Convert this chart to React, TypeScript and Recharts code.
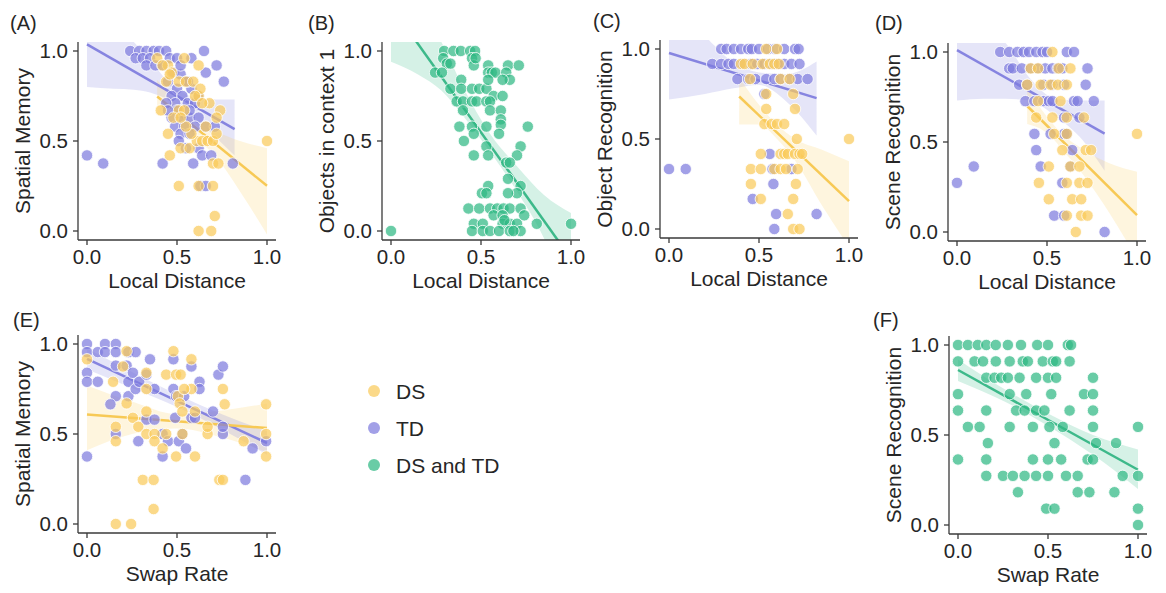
import React from 'react';
import { ComposedChart, Scatter, Line, Area, XAxis, YAxis } from 'recharts';

type Pt = [number, number];
type Band = [number, number, number];

const INK = '#262626';
const AXIS = '#3a3a3a';
const DS_COLOR = '#F9CB5C';
const TD_COLOR = '#7E7CDE';
const BOTH_COLOR = '#2FB884';
const DS_LINE = '#F7C955';
const TD_LINE = '#8684E0';
const BOTH_LINE = '#3DB98A';

const TICKS = [0, 0.5, 1];

// (A) Spatial Memory vs Local Distance
const A_TD: Pt[] = [
  [0, 0.42], [0.09, 0.375], [0.24, 1.0], [0.29, 1.0], [0.33, 1.0], [0.37, 1.0], [0.4, 1.0], [0.44, 1.0],
  [0.27, 0.96], [0.31, 0.96], [0.35, 0.96], [0.33, 0.92], [0.38, 0.92], [0.42, 0.92], [0.46, 0.96],
  [0.5, 0.96], [0.58, 0.96], [0.65, 1.0], [0.72, 0.92], [0.66, 0.88], [0.76, 0.83], [0.48, 0.88],
  [0.45, 0.83], [0.52, 0.87], [0.55, 0.83], [0.58, 0.79], [0.5, 0.79], [0.47, 0.75], [0.53, 0.75],
  [0.56, 0.71], [0.6, 0.71], [0.49, 0.71], [0.44, 0.71], [0.5, 0.67], [0.47, 0.63], [0.53, 0.63],
  [0.57, 0.63], [0.62, 0.63], [0.49, 0.58], [0.54, 0.58], [0.6, 0.58], [0.66, 0.58], [0.71, 0.58],
  [0.52, 0.54], [0.57, 0.54], [0.51, 0.5], [0.62, 0.46], [0.55, 0.46], [0.42, 0.375], [0.59, 0.375],
  [0.64, 0.42], [0.69, 0.42], [0.81, 0.375], [0.63, 0.25], [0.66, 0.25], [0.57, 0.67], [0.62, 0.75],
  [0.45, 0.67], [0.52, 0.92], [0.56, 0.83],
];
const A_DS: Pt[] = [
  [1.0, 0.5], [0.51, 0.25], [0.62, 0.25], [0.7, 0.25], [0.71, 0.083], [0.62, 0.0], [0.69, 0.0],
  [0.46, 0.42], [0.45, 0.54], [0.41, 0.67], [0.39, 0.96], [0.45, 0.92], [0.54, 0.96], [0.62, 0.92],
  [0.44, 0.83], [0.51, 0.83], [0.55, 0.83], [0.59, 0.83], [0.62, 0.75], [0.63, 0.79], [0.6, 0.75],
  [0.68, 0.71], [0.74, 0.67], [0.72, 0.63], [0.51, 0.67], [0.54, 0.67], [0.47, 0.88], [0.46, 0.87],
  [0.52, 0.46], [0.57, 0.46], [0.61, 0.5], [0.64, 0.5], [0.67, 0.5], [0.7, 0.5], [0.72, 0.54],
  [0.66, 0.58], [0.58, 0.54], [0.7, 0.375], [0.73, 0.375], [0.55, 0.58], [0.64, 0.71], [0.48, 0.63],
  [0.52, 0.63], [0.42, 0.92],
];
const A_TD_FIT: Pt[] = [[0, 1.037], [0.82, 0.566]];
const A_DS_FIT: Pt[] = [[0.39, 0.747], [1.0, 0.251]];
const A_TD_BAND: Band[] = [
  [0, 0.8, 1.28], [0.15, 0.79, 1.15], [0.26, 0.785, 1.05], [0.35, 0.77, 0.95], [0.45, 0.73, 0.83],
  [0.55, 0.67, 0.76], [0.65, 0.58, 0.73], [0.82, 0.42, 0.73],
];
const A_DS_BAND: Band[] = [
  [0.39, 0.65, 0.84], [0.5, 0.61, 0.7], [0.6, 0.52, 0.61], [0.7, 0.43, 0.56], [0.85, 0.22, 0.5], [1.0, -0.02, 0.46],
];

// (B) Objects in context 1 vs Local Distance (both groups)
const B_ALL: Pt[] = [
  [0, 0], [0.295, 1], [0.347, 1], [0.388, 1], [0.44, 1], [0.467, 1], [0.29, 0.96], [0.31, 0.93],
  [0.245, 0.88], [0.283, 0.88], [0.33, 0.93], [0.45, 0.96], [0.46, 0.92], [0.54, 0.92], [0.54, 0.88],
  [0.56, 0.88], [0.58, 0.88], [0.65, 0.92], [0.71, 0.92], [0.64, 0.88], [0.66, 0.84], [0.33, 0.79],
  [0.39, 0.84], [0.39, 0.79], [0.45, 0.79], [0.49, 0.79], [0.53, 0.79], [0.54, 0.84], [0.57, 0.75],
  [0.62, 0.75], [0.365, 0.72], [0.4, 0.72], [0.45, 0.72], [0.475, 0.72], [0.53, 0.72], [0.55, 0.72],
  [0.4, 0.67], [0.55, 0.67], [0.61, 0.67], [0.61, 0.62], [0.61, 0.59], [0.38, 0.58], [0.45, 0.58],
  [0.53, 0.58], [0.46, 0.54], [0.6, 0.54], [0.405, 0.5], [0.76, 0.58], [0.53, 0.47], [0.54, 0.42],
  [0.46, 0.42], [0.72, 0.47], [0.7, 0.42], [0.64, 0.38], [0.66, 0.38], [0.65, 0.29], [0.72, 0.25],
  [0.7, 0.21], [0.54, 0.25], [0.505, 0.21], [0.53, 0.21], [0.65, 0.21], [0.43, 0.125], [0.49, 0.125],
  [0.55, 0.125], [0.59, 0.125], [0.625, 0.125], [0.66, 0.125], [0.72, 0.125], [0.57, 0.087],
  [0.62, 0.087], [0.74, 0.087], [0.46, 0.04], [0.51, 0.04], [0.62, 0.04], [0.66, 0.04], [0.7, 0.04],
  [0.45, 0], [0.51, 0], [0.55, 0], [0.6, 0], [0.66, 0], [0.72, 0], [0.81, 0.04], [1.0, 0.04], [0.68, 0],
  [0.63, 0.06], [0.47, 0.96], [0.62, 0.84],
];
const B_FIT: Pt[] = [[0, 1.25], [1, -0.154]];
const B_BAND: Band[] = [
  [0, 0.94, 1.56], [0.15, 0.87, 1.25], [0.28, 0.78, 1.05], [0.4, 0.64, 0.8], [0.55, 0.44, 0.54],
  [0.7, 0.22, 0.36], [0.85, -0.04, 0.2], [1.0, -0.4, 0.1],
];

// (C) Object Recognition vs Local Distance
const C_TD: Pt[] = [
  [0.29, 1], [0.32, 1], [0.36, 1], [0.4, 1], [0.44, 1], [0.46, 1], [0.5, 1], [0.55, 1], [0.59, 1], [0.64, 1],
  [0.7, 1], [0.72, 1],
  [0.24, 0.917], [0.29, 0.917], [0.33, 0.917], [0.36, 0.917], [0.41, 0.917], [0.455, 0.917], [0.49, 0.917],
  [0.53, 0.917], [0.57, 0.917], [0.6, 0.917], [0.64, 0.917], [0.68, 0.917], [0.725, 0.917],
  [0.38, 0.833], [0.44, 0.833], [0.48, 0.833], [0.54, 0.833], [0.585, 0.833], [0.62, 0.833], [0.67, 0.833],
  [0.715, 0.833], [0.77, 0.833],
  [0.53, 0.75], [0.56, 0.417], [0, 0.333], [0.093, 0.333], [0.575, 0.333], [0.68, 0.333], [0.58, 0.25],
  [0.465, 0.167], [0.595, 0.083], [0.82, 0.083], [0.585, 0],
];
const C_DS: Pt[] = [
  [0.54, 1], [0.6, 1],
  [0.4, 0.917], [0.42, 0.917], [0.465, 0.917], [0.52, 0.917], [0.56, 0.917], [0.585, 0.917], [0.61, 0.917],
  [0.45, 0.833], [0.62, 0.833], [0.67, 0.833], [0.54, 0.75], [0.69, 0.75], [0.54, 0.667], [0.7, 0.667],
  [0.53, 0.583], [0.57, 0.583], [0.6, 0.583], [0.64, 0.583], [0.71, 0.5], [1.0, 0.5],
  [0.51, 0.417], [0.62, 0.417], [0.64, 0.417], [0.66, 0.417], [0.7, 0.417], [0.725, 0.417], [0.74, 0.417],
  [0.455, 0.333], [0.51, 0.333], [0.585, 0.333], [0.62, 0.333], [0.65, 0.333], [0.715, 0.333],
  [0.455, 0.25], [0.705, 0.25], [0.51, 0.167], [0.69, 0.167], [0.66, 0.083], [0.69, 0], [0.725, 0],
];
const C_TD_FIT: Pt[] = [[0, 0.978], [0.82, 0.727]];
const C_DS_FIT: Pt[] = [[0.39, 0.736], [1.0, 0.155]];
const C_TD_BAND: Band[] = [
  [0, 0.72, 1.24], [0.2, 0.75, 1.07], [0.35, 0.78, 0.93], [0.5, 0.8, 0.87], [0.65, 0.71, 0.86], [0.82, 0.52, 0.93],
];
const C_DS_BAND: Band[] = [
  [0.39, 0.58, 0.84], [0.5, 0.58, 0.69], [0.6, 0.5, 0.58], [0.7, 0.38, 0.5], [0.85, 0.13, 0.44], [1.0, -0.1, 0.376],
];

// (D) Scene Recognition vs Local Distance
const D_TD: Pt[] = [
  [0.24, 1], [0.29, 1], [0.335, 1], [0.37, 1], [0.4, 1], [0.44, 1], [0.475, 1], [0.5, 1], [0.61, 1], [0.65, 1],
  [0.29, 0.909], [0.31, 0.909], [0.36, 0.909], [0.41, 0.909], [0.45, 0.909], [0.49, 0.909], [0.53, 0.909],
  [0.56, 0.909], [0.585, 0.909], [0.725, 0.909],
  [0.345, 0.818], [0.39, 0.818], [0.48, 0.818], [0.53, 0.818], [0.595, 0.818], [0.715, 0.818],
  [0.38, 0.727], [0.43, 0.727], [0.48, 0.727], [0.51, 0.727], [0.53, 0.727], [0.65, 0.727], [0.67, 0.727],
  [0.76, 0.727], [0.595, 0.636], [0.68, 0.636], [0.43, 0.545], [0.52, 0.545], [0.595, 0.545], [0.61, 0.545],
  [0.44, 0.455], [0.64, 0.455], [0.093, 0.364], [0.465, 0.364], [0.63, 0.364], [0, 0.273], [0.585, 0.273],
  [0.54, 0.091], [0.595, 0.091], [0.82, 0],
];
const D_DS: Pt[] = [
  [0.53, 1], [0.41, 0.909], [0.45, 0.909], [0.565, 0.909], [0.63, 0.909],
  [0.39, 0.818], [0.465, 0.818], [0.52, 0.818], [0.56, 0.818], [0.61, 0.818], [0.45, 0.727], [0.575, 0.727],
  [0.44, 0.636], [0.53, 0.636], [0.61, 0.636], [0.705, 0.636], [0.54, 0.545], [0.61, 0.545], [1.0, 0.545],
  [0.585, 0.455], [0.715, 0.455], [0.745, 0.455], [0.51, 0.364], [0.63, 0.364], [0.68, 0.364],
  [0.455, 0.273], [0.61, 0.273], [0.68, 0.273], [0.725, 0.273], [0.51, 0.182], [0.64, 0.182], [0.69, 0.182],
  [0.61, 0.091], [0.69, 0.091], [0.725, 0.091], [0.66, 0],
];
const D_TD_FIT: Pt[] = [[0, 1.01], [0.82, 0.547]];
const D_DS_FIT: Pt[] = [[0.39, 0.7], [1.0, 0.094]];
const D_TD_BAND: Band[] = [
  [0, 0.73, 1.3], [0.15, 0.74, 1.13], [0.27, 0.74, 1.05], [0.4, 0.73, 0.86], [0.55, 0.64, 0.74],
  [0.68, 0.53, 0.73], [0.82, 0.34, 0.73],
];
const D_DS_BAND: Band[] = [
  [0.39, 0.6, 0.8], [0.5, 0.55, 0.64], [0.6, 0.44, 0.53], [0.7, 0.32, 0.46], [0.85, 0.1, 0.38], [1.0, -0.15, 0.335],
];

// (E) Spatial Memory vs Swap Rate
const E_TD: Pt[] = [
  [0, 1.0], [0, 0.955], [0, 0.84], [0, 0.79], [0, 0.375], [0.06, 0.955], [0.06, 0.79], [0.1, 1.0], [0.1, 0.955],
  [0.16, 1.0], [0.16, 0.955], [0.16, 0.88], [0.16, 0.71], [0.16, 0.5], [0.13, 0.665], [0.22, 0.88],
  [0.23, 0.79], [0.23, 0.71], [0.255, 0.84], [0.27, 0.75], [0.29, 0.79], [0.285, 0.46], [0.23, 0.955],
  [0.27, 0.955], [0.35, 0.915], [0.33, 0.83], [0.375, 0.75], [0.33, 0.58], [0.375, 0.58], [0.42, 0.5],
  [0.42, 0.375], [0.48, 0.915], [0.48, 0.75], [0.495, 0.71], [0.45, 0.46], [0.51, 0.46], [0.55, 0.42],
  [0.53, 0.5], [0.58, 0.875], [0.625, 0.79], [0.625, 0.75], [0.58, 0.59], [0.6, 0.59], [0.7, 0.625],
  [0.755, 0.5], [0.755, 0.54], [0.73, 0.83], [0.755, 0.875], [0.88, 0.245], [0.92, 0.42], [0.995, 0.46],
  [0.49, 0.59], [0.54, 0.71],
];
const E_DS: Pt[] = [
  [0, 0.915], [0.145, 0.79], [0.16, 0.54], [0.16, 0.46], [0.2, 0.875], [0.22, 0.96], [0.22, 0.67],
  [0.255, 0.59], [0.285, 0.54], [0.16, 0], [0.245, 0], [0.31, 0.245], [0.37, 0.245], [0.37, 0.083],
  [0.33, 0.84], [0.33, 0.75], [0.33, 0.625], [0.33, 0.5], [0.375, 0.5], [0.375, 0.46], [0.42, 0.42],
  [0.44, 0.5], [0.44, 0.83], [0.48, 0.96], [0.495, 0.83], [0.52, 0.83], [0.505, 0.71], [0.515, 0.67],
  [0.53, 0.625], [0.53, 0.5], [0.495, 0.375], [0.58, 0.915], [0.58, 0.75], [0.6, 0.375], [0.54, 0.75],
  [0.6, 0.625], [0.67, 0.5], [0.67, 0.54], [0.755, 0.75], [0.765, 0.665], [0.735, 0.245], [0.755, 0.245],
  [0.87, 0.46], [0.995, 0.665], [0.995, 0.5], [0.995, 0.375],
];
const E_TD_FIT: Pt[] = [[0, 0.918], [1, 0.45]];
const E_DS_FIT: Pt[] = [[0, 0.608], [1, 0.533]];
const E_TD_BAND: Band[] = [
  [0, 0.86, 0.975], [0.25, 0.755, 0.845], [0.5, 0.65, 0.72], [0.75, 0.525, 0.61], [1, 0.385, 0.515],
];
const E_DS_BAND: Band[] = [
  [0, 0.41, 0.77], [0.25, 0.5, 0.68], [0.5, 0.53, 0.61], [0.75, 0.48, 0.63], [1, 0.4, 0.67],
];

// (F) Scene Recognition vs Swap Rate (both groups)
const F_ALL: Pt[] = [
  [0, 1], [0.055, 1], [0.11, 1], [0.157, 1], [0.21, 1], [0.277, 1], [0.35, 1], [0.44, 1], [0.5, 1], [0.61, 1], [0.628, 1],
  [0, 0.909], [0.092, 0.909], [0.139, 0.909], [0.21, 0.909], [0.287, 0.909], [0.36, 0.909], [0.388, 0.909],
  [0.471, 0.909], [0.527, 0.909], [0.545, 0.909], [0.62, 0.909],
  [0.157, 0.818], [0.203, 0.818], [0.24, 0.818], [0.277, 0.818], [0.342, 0.818], [0.434, 0.818], [0.5, 0.818],
  [0.545, 0.818], [0.75, 0.818],
  [0, 0.727], [0.287, 0.727], [0.379, 0.727], [0.518, 0.727], [0.7, 0.727], [0.75, 0.727],
  [0, 0.636], [0.157, 0.636], [0.323, 0.636], [0.37, 0.636], [0.434, 0.636], [0.48, 0.636], [0.62, 0.636], [0.75, 0.636],
  [0.055, 0.545], [0.12, 0.545], [0.287, 0.545], [0.416, 0.545], [0.508, 0.545], [0.582, 0.545], [0.75, 0.545], [1.0, 0.545],
  [0.166, 0.455], [0.536, 0.455], [0.767, 0.455], [0.878, 0.455],
  [0, 0.364], [0.157, 0.364], [0.416, 0.364], [0.5, 0.364], [0.573, 0.364], [0.72, 0.364], [0.75, 0.364],
  [0.157, 0.273], [0.25, 0.273], [0.305, 0.273], [0.37, 0.273], [0.434, 0.273], [0.5, 0.273], [0.6, 0.273],
  [0.665, 0.273], [0.915, 0.273], [1.0, 0.273],
  [0.333, 0.182], [0.665, 0.182], [0.73, 0.182], [0.869, 0.182], [0.49, 0.091], [0.536, 0.091], [1.0, 0.091], [1.0, 0],
];
const F_FIT: Pt[] = [[0, 0.861], [1, 0.307]];
const F_BAND: Band[] = [[0, 0.8, 0.92], [0.25, 0.69, 0.76], [0.5, 0.55, 0.62], [0.75, 0.39, 0.5], [1, 0.2, 0.42]];

type Series<T> = { data: T[]; color: string };
type PanelDef = {
  id: string;
  left: number;
  top: number;
  xLabel: string;
  yLabel: string;
  bands: Series<Band>[];
  groups: Series<Pt>[];
  fits: Series<Pt>[];
};

const PANELS: PanelDef[] = [
  {
    id: 'A', left: 78, top: 42, xLabel: 'Local Distance', yLabel: 'Spatial Memory',
    bands: [{ data: A_TD_BAND, color: TD_COLOR }, { data: A_DS_BAND, color: DS_COLOR }],
    groups: [{ data: A_TD, color: TD_COLOR }, { data: A_DS, color: DS_COLOR }],
    fits: [{ data: A_TD_FIT, color: TD_LINE }, { data: A_DS_FIT, color: DS_LINE }],
  },
  {
    id: 'B', left: 382, top: 42, xLabel: 'Local Distance', yLabel: 'Objects in context 1',
    bands: [{ data: B_BAND, color: BOTH_COLOR }],
    groups: [{ data: B_ALL, color: BOTH_COLOR }],
    fits: [{ data: B_FIT, color: BOTH_LINE }],
  },
  {
    id: 'C', left: 660, top: 40, xLabel: 'Local Distance', yLabel: 'Object Recognition',
    bands: [{ data: C_TD_BAND, color: TD_COLOR }, { data: C_DS_BAND, color: DS_COLOR }],
    groups: [{ data: C_TD, color: TD_COLOR }, { data: C_DS, color: DS_COLOR }],
    fits: [{ data: C_TD_FIT, color: TD_LINE }, { data: C_DS_FIT, color: DS_LINE }],
  },
  {
    id: 'D', left: 948, top: 43, xLabel: 'Local Distance', yLabel: 'Scene Recognition',
    bands: [{ data: D_TD_BAND, color: TD_COLOR }, { data: D_DS_BAND, color: DS_COLOR }],
    groups: [{ data: D_TD, color: TD_COLOR }, { data: D_DS, color: DS_COLOR }],
    fits: [{ data: D_TD_FIT, color: TD_LINE }, { data: D_DS_FIT, color: DS_LINE }],
  },
  {
    id: 'E', left: 78, top: 335, xLabel: 'Swap Rate', yLabel: 'Spatial Memory',
    bands: [{ data: E_DS_BAND, color: DS_COLOR }, { data: E_TD_BAND, color: TD_COLOR }],
    groups: [{ data: E_TD, color: TD_COLOR }, { data: E_DS, color: DS_COLOR }],
    fits: [{ data: E_TD_FIT, color: TD_LINE }, { data: E_DS_FIT, color: DS_LINE }],
  },
  {
    id: 'F', left: 949, top: 336, xLabel: 'Swap Rate', yLabel: 'Scene Recognition',
    bands: [{ data: F_BAND, color: BOTH_COLOR }],
    groups: [{ data: F_ALL, color: BOTH_COLOR }],
    fits: [{ data: F_FIT, color: BOTH_LINE }],
  },
];

const PANEL_LABELS = [
  { text: '(A)', x: 10, y: 30 },
  { text: '(B)', x: 308, y: 30 },
  { text: '(C)', x: 593, y: 28 },
  { text: '(D)', x: 875, y: 30 },
  { text: '(E)', x: 13, y: 327 },
  { text: '(F)', x: 873, y: 327 },
];

const LEGEND = [
  { name: 'DS', color: DS_COLOR },
  { name: 'TD', color: TD_COLOR },
  { name: 'DS and TD', color: BOTH_COLOR },
];

const toPts = (a: Pt[]) => a.map(([x, y]) => ({ x, y }));
const toBand = (a: Band[]) => a.map(([x, lo, hi]) => ({ x, band: [lo, hi] }));

const dot = (fill: string) => (props: any) => (
  <circle cx={props.cx} cy={props.cy} r={5.7} fill={fill} fillOpacity={0.72} stroke="#fff" strokeWidth={0.8} />
);

const YAXIS_W = 110;
const PLOT = 198;
const TICK_FONT = 20.5;
const LABEL_FONT = 21;

function Panel({ p }: { p: PanelDef }) {
  return (
    <div style={{ position: 'absolute', left: p.left - YAXIS_W, top: p.top - 10 }}>
      <ComposedChart width={YAXIS_W + PLOT + 12} height={10 + PLOT + 56} margin={{ top: 10, right: 12, bottom: 0, left: 0 }}>
        <XAxis
          type="number"
          dataKey="x"
          domain={[-0.05, 1.05]}
          ticks={TICKS}
          allowDataOverflow
          tickFormatter={(v: number) => v.toFixed(1)}
          height={56}
          tickSize={5}
          tickMargin={4}
          tick={{ fontSize: TICK_FONT, fill: INK }}
          axisLine={{ stroke: AXIS, strokeWidth: 1.3 }}
          tickLine={{ stroke: AXIS, strokeWidth: 1.3 }}
          label={{ value: p.xLabel, position: 'insideBottom', offset: 8, fontSize: LABEL_FONT, fill: INK }}
        />
        <YAxis
          type="number"
          dataKey="y"
          domain={[-0.05, 1.05]}
          ticks={TICKS}
          allowDataOverflow
          tickFormatter={(v: number) => v.toFixed(1)}
          width={YAXIS_W}
          tickSize={5}
          tickMargin={5}
          tick={{ fontSize: TICK_FONT, fill: INK }}
          axisLine={{ stroke: AXIS, strokeWidth: 1.3 }}
          tickLine={{ stroke: AXIS, strokeWidth: 1.3 }}
          label={{ value: p.yLabel, angle: -90, position: 'center', fontSize: LABEL_FONT, fill: INK }}
        />
        {p.bands.map((b, i) => (
          <Area
            key={`band-${i}`}
            data={toBand(b.data)}
            dataKey="band"
            type="monotone"
            fill={b.color}
            fillOpacity={0.2}
            stroke="none"
            activeDot={false}
            isAnimationActive={false}
          />
        ))}
        {p.groups.map((g, i) => (
          <Scatter key={`pts-${i}`} data={toPts(g.data)} shape={dot(g.color)} isAnimationActive={false} />
        ))}
        {p.fits.map((f, i) => (
          <Line
            key={`fit-${i}`}
            data={toPts(f.data)}
            dataKey="y"
            stroke={f.color}
            strokeWidth={2.5}
            dot={false}
            activeDot={false}
            isAnimationActive={false}
          />
        ))}
      </ComposedChart>
    </div>
  );
}

export default function App() {
  return (
    <div
      style={{
        position: 'absolute',
        left: 0,
        top: 0,
        width: 1166,
        height: 593,
        background: '#fff',
        fontFamily: '"Liberation Sans", Arial, sans-serif',
      }}
    >
      {PANELS.map(p => (
        <Panel key={p.id} p={p} />
      ))}
      <svg width={1166} height={593} style={{ position: 'absolute', left: 0, top: 0, pointerEvents: 'none' }}>
        {PANEL_LABELS.map(l => (
          <text key={l.text} x={l.x} y={l.y} fontSize={20} fill={INK}>
            {l.text}
          </text>
        ))}
        {LEGEND.map((l, i) => (
          <g key={l.name}>
            <circle cx={374} cy={391 + i * 37} r={6} fill={l.color} fillOpacity={0.72} />
            <text x={396} y={391 + i * 37} fontSize={21} fill={INK} dominantBaseline="central">
              {l.name}
            </text>
          </g>
        ))}
      </svg>
    </div>
  );
}
